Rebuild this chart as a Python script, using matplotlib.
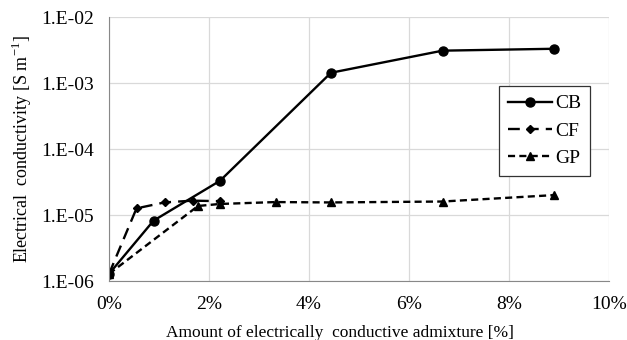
import math
import matplotlib.pyplot as plt
from matplotlib.ticker import FuncFormatter, PercentFormatter

# Amount of admixture [%] and conductivity [S/m]
cb_x = [0, 0.89, 2.22, 4.44, 6.67, 8.89]
cb_y = [1.28e-6, 8.2e-6, 3.3e-5, 1.43e-3, 3.09e-3, 3.3e-3]

cf_x = [0, 0.55, 1.11, 1.67, 2.22]
cf_y = [1.28e-6, 1.26e-5, 1.55e-5, 1.65e-5, 1.62e-5]

gp_x = [0, 1.78, 2.22, 3.33, 4.44, 6.67, 8.89]
gp_y = [1.28e-6, 1.37e-5, 1.47e-5, 1.57e-5, 1.55e-5, 1.6e-5, 2.0e-5]

plt.rcParams["font.family"] = ["Liberation Serif", "DejaVu Serif"]

fig = plt.figure(figsize=(6.27, 3.4), dpi=100)
ax = fig.add_axes([109 / 627, 1 - 281 / 340, 500 / 627, 264 / 340])

ax.plot(cb_x, cb_y, color="black", lw=1.7, marker="o", ms=6.5, label="CB")
ax.plot(cf_x, cf_y, color="black", lw=1.7, marker="D", ms=4.5,
        dashes=(5, 3), label="CF")
ax.plot(gp_x, gp_y, color="black", lw=1.7, marker="^", ms=6,
        dashes=(3, 1.8), label="GP")

ax.set_yscale("log")
ax.set_ylim(1e-6, 1e-2)
ax.set_xlim(0, 10)
ax.set_xticks([0, 2, 4, 6, 8, 10])
ax.xaxis.set_major_formatter(PercentFormatter(decimals=0))
ax.yaxis.set_major_formatter(FuncFormatter(lambda v, p: "1.E-%02d" % round(-math.log10(v))))
ax.minorticks_off()
ax.tick_params(axis="y", length=0, labelsize=14, pad=11)
ax.tick_params(axis="x", length=0, labelsize=14, pad=11)

ax.grid(True, color="#d9d9d9", lw=0.9)
ax.set_axisbelow(True)
for s in ["top", "right"]:
    ax.spines[s].set_visible(False)
for s in ["left", "bottom"]:
    ax.spines[s].set_color("#888888")

ax.set_xlabel("Amount of electrically  conductive admixture [%]", fontsize=12.5)
ax.xaxis.set_label_coords((340 - 109) / 500, -(333 - 281) / 264, transform=ax.transAxes)
ax.xaxis.label.set_va("center")
ax.set_ylabel("Electrical  conductivity [S m$^{\\mathregular{-1}}$]", fontsize=13, labelpad=5)

leg = ax.legend(loc="upper left", bbox_to_anchor=(390 / 500, (281 - 86) / 264),
                fontsize=14, frameon=True, fancybox=False, edgecolor="#333333",
                framealpha=1, handlelength=2.3, borderpad=0.45, labelspacing=0.5,
                handletextpad=0.15, borderaxespad=0)
leg.get_frame().set_linewidth(0.9)

fig.savefig("out.png", dpi=100)
